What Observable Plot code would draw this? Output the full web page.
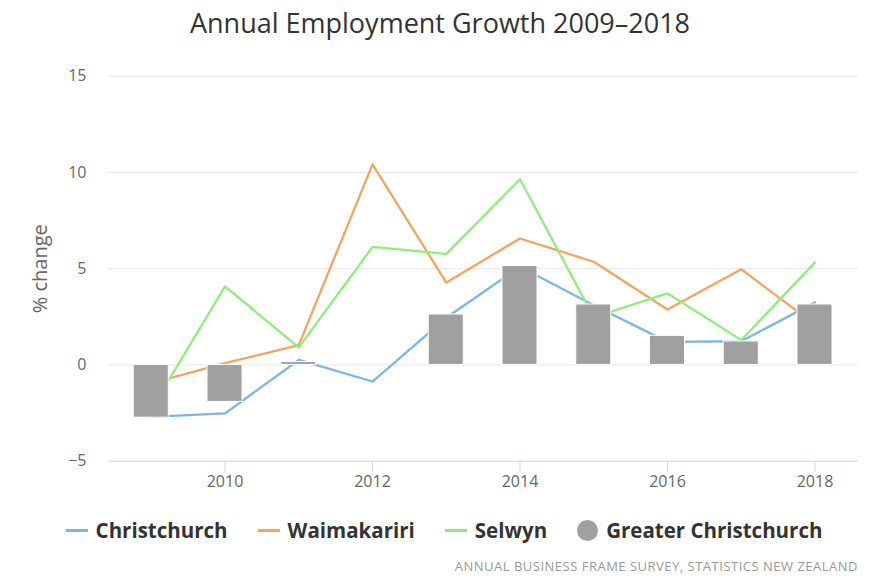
<!DOCTYPE html>
<html>
<head>
<meta charset="utf-8">
<script src="https://cdn.jsdelivr.net/npm/d3@7"></script>
<script src="https://cdn.jsdelivr.net/npm/@observablehq/plot@0.6"></script>
<style>
  html, body { margin: 0; padding: 0; background: #fff; }
  #wrap { position: relative; width: 880px; height: 579px; overflow: hidden; font-family: "Open Sans", sans-serif; }
  #title { position: absolute; left: 0; top: 4px; width: 880px; text-align: center; font-size: 27px; color: #333; }
  #chart { position: absolute; left: 0; top: 0; }
  #legend { position: absolute; left: 4px; top: 516px; width: 880px; display: flex; justify-content: center; align-items: center; font-weight: bold; font-size: 20.5px; color: #333; }
  .item { display: flex; align-items: center; margin: 0 15px; }
  .sym-line { width: 22px; height: 3px; margin-right: 8px; }
  .sym-dot { width: 21px; height: 21px; border-radius: 50%; margin-right: 8px; }
  #caption { position: absolute; right: 22px; top: 557px; font-size: 13px; color: #999; letter-spacing: 0.5px; }
</style>
</head>
<body>
<div id="wrap">
  <div id="chart"></div>
  <div id="title"></div>
  <div id="legend"></div>
  <div id="caption"></div>
</div>
<script>
const titleText = "Annual Employment Growth 2009–2018";
const yLabel = "% change";
const captionText = "ANNUAL BUSINESS FRAME SURVEY, STATISTICS NEW ZEALAND";

const years = [2009, 2010, 2011, 2012, 2013, 2014, 2015, 2016, 2017, 2018];
const christchurch = [-2.7, -2.52, 0.26, -0.86, 2.45, 5.1, 3.1, 1.2, 1.23, 3.25];
const waimakariri = [-0.95, 0.09, 1.03, 10.42, 4.28, 6.57, 5.36, 2.88, 4.97, 2.1];
const selwyn = [-2.3, 4.08, 0.91, 6.13, 5.77, 9.65, 2.48, 3.72, 1.29, 5.33];
const greaterChristchurch = [-2.74, -1.92, 0.15, 0, 2.62, 5.14, 3.14, 1.51, 1.22, 3.14];

const lineSeries = ["Christchurch", "Waimakariri", "Selwyn"];
const barSeries = "Greater Christchurch";
const lineColors = ["#7cb5ec", "#f7a35c", "#90ed7d"];
const barColor = "#a0a0a0";

const xTicks = [2010, 2012, 2014, 2016, 2018];
const yTicks = [-5, 0, 5, 10, 15];

const lineValues = [christchurch, waimakariri, selwyn];
const lineData = lineSeries.flatMap((s, i) => years.map((yr, j) => ({series: s, year: yr, value: lineValues[i][j]})));
const barData = years.map((yr, j) => ({year: yr, value: greaterChristchurch[j]}));
const halfBar = 0.2375;

const chart = Plot.plot({
  width: 880,
  height: 500,
  marginLeft: 108,
  marginRight: 22,
  marginTop: 75.7,
  marginBottom: 39.3,
  style: {fontFamily: "'Open Sans', sans-serif", fontSize: "16px", background: "transparent", color: "#666"},
  x: {type: "linear", domain: [2008.42, 2018.59]},
  y: {domain: [-5, 15]},
  color: {domain: lineSeries, range: lineColors},
  marks: [
    Plot.gridY(yTicks.filter(d => d > -5), {stroke: "#e6e6e6", strokeOpacity: 1, strokeWidth: 1}),
    Plot.ruleY([-5], {stroke: "#ccd6eb", strokeWidth: 1}),
    Plot.axisX({ticks: xTicks, tickFormat: d => String(d), tickSize: 11, tickPadding: 3, stroke: "#ccd6eb", fill: "#666", label: null, fontSize: 16}),
    Plot.axisY({ticks: yTicks, tickSize: 0, tickPadding: 22, fill: "#666", label: null, fontSize: 16}),
    Plot.text([yLabel], {text: d => d, frameAnchor: "left", textAnchor: "middle", rotate: -90, dx: -68, fontSize: 20, fill: "#666"}),
    Plot.line(lineData, {x: "year", y: "value", stroke: "series", strokeWidth: 2.3, strokeLinejoin: "round", strokeLinecap: "round"}),
    Plot.rectY(barData, {x1: d => d.year - halfBar, x2: d => d.year + halfBar, y1: 0, y2: "value", fill: barColor, stroke: "#fff", strokeWidth: 1})
  ]
});
document.getElementById("chart").appendChild(chart);
document.getElementById("title").textContent = titleText;
document.getElementById("caption").textContent = captionText;

const legend = document.getElementById("legend");
lineSeries.forEach((s, i) => {
  const it = document.createElement("div");
  it.className = "item";
  it.innerHTML = `<span class="sym-line" style="background:${lineColors[i]}"></span><span>${s}</span>`;
  legend.appendChild(it);
});
const itb = document.createElement("div");
itb.className = "item";
itb.innerHTML = `<span class="sym-dot" style="background:${barColor}"></span><span>${barSeries}</span>`;
legend.appendChild(itb);
</script>
</body>
</html>
